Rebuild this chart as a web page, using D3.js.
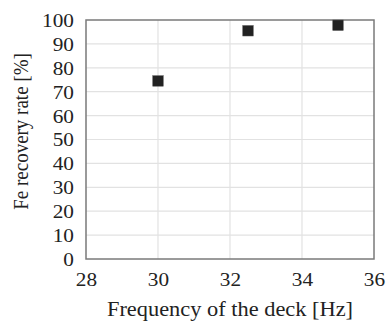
<!DOCTYPE html>
<html><head><meta charset="utf-8">
<script src="https://cdn.jsdelivr.net/npm/d3@7"></script>
<style>body{margin:0;background:#fff}svg{display:block}text{font-family:"Liberation Serif","Times New Roman",serif;fill:#222}</style>
</head><body>
<script>
const freq = [30, 32.5, 35];
const recovery = [74.5, 95.5, 97.8];
const xTicks = [28, 30, 32, 34, 36];
const yTicks = [0, 10, 20, 30, 40, 50, 60, 70, 80, 90, 100];
const xTitle = "Frequency of the deck [Hz]";
const yTitle = "Fe recovery rate [%]";

const W = 387, H = 322;
const m = {l: 86, r: 13, t: 20, b: 63};
const serif = '"Liberation Serif","Times New Roman",serif';
const svg = d3.select("body").append("svg").attr("width", W).attr("height", H);
const x = d3.scaleLinear().domain([28, 36]).range([m.l, W - m.r]);
const y = d3.scaleLinear().domain([0, 100]).range([H - m.b, m.t]);

const g = svg.append("g");
g.selectAll("line.gx").data(xTicks.slice(1, -1)).join("line")
  .attr("x1", d => x(d)).attr("x2", d => x(d)).attr("y1", y(0)).attr("y2", y(100))
  .attr("stroke", "#e2e2e2").attr("stroke-width", 1.2);
g.selectAll("line.gy").data(yTicks.slice(1, -1)).join("line")
  .attr("y1", d => y(d)).attr("y2", d => y(d)).attr("x1", x(28)).attr("x2", x(36))
  .attr("stroke", "#e2e2e2").attr("stroke-width", 1.2);

svg.append("rect").attr("x", x(28)).attr("y", y(100))
  .attr("width", x(36) - x(28)).attr("height", y(0) - y(100))
  .attr("fill", "none").attr("stroke", "#7a7a7a").attr("stroke-width", 1.5);

const xAxis = d3.axisBottom(x).tickValues(xTicks).tickSize(0).tickPadding(0);
const ax = svg.append("g").attr("transform", `translate(0,${y(0)})`).call(xAxis)
  .attr("font-family", serif).attr("font-size", 19);
ax.select(".domain").remove();
ax.selectAll("text").attr("dy", null).attr("y", 27).attr("transform", "scale(1.12,1)")
  .style("font-family", serif).style("font-size", "19px").attr("fill", "#222");

const yAxis = d3.axisLeft(y).tickValues(yTicks).tickSize(0).tickPadding(0);
const ay = svg.append("g").attr("transform", `translate(${x(28)},0)`).call(yAxis)
  .attr("font-family", serif).attr("font-size", 19);
ay.select(".domain").remove();
ay.selectAll("text").attr("x", -12 / 1.12).attr("dy", "0.34em").attr("transform", "scale(1.12,1)")
  .style("font-family", serif).style("font-size", "19px").attr("fill", "#222");

const s = 10.5;
svg.selectAll("rect.pt").data(freq).join("rect")
  .attr("x", (d) => x(d) - s / 2).attr("y", (d, i) => y(recovery[i]) - s / 2)
  .attr("width", s).attr("height", s).attr("fill", "#222").attr("stroke", "#555").attr("stroke-width", 0.5);

svg.append("text").attr("transform", `translate(${(x(28) + x(36)) / 2},316) scale(1.12,1)`)
  .attr("text-anchor", "middle").style("font-size", "20px").text(xTitle);
svg.append("text").attr("transform", `translate(27.5,131.5) rotate(-90) scale(1,1.12)`)
  .attr("text-anchor", "middle").style("font-size", "19px").text(yTitle);
</script>
</body></html>
